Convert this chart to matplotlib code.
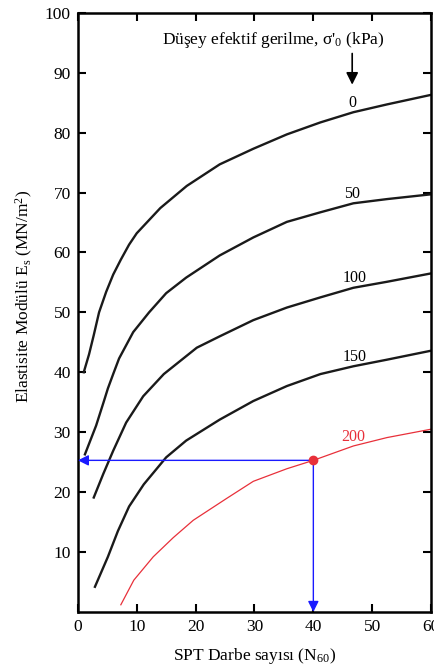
import matplotlib
matplotlib.use("Agg")
import matplotlib.pyplot as plt

plt.rcParams['font.family'] = ['Liberation Serif', 'DejaVu Serif']
plt.rcParams['mathtext.fontset'] = 'custom'
plt.rcParams['mathtext.rm'] = 'Liberation Serif'
plt.rcParams['mathtext.it'] = 'Liberation Serif:italic'

# SPT N60 vs elastic modulus for several effective stresses (kPa)
n_0 = [1.0, 1.9, 2.7, 3.6, 4.8, 6.0, 7.3, 8.7, 10, 14, 18.5, 24.1, 29.8, 35.5, 41.2, 46.8, 52.5, 60]
e_0 = [40, 43.0, 46.2, 50, 53.4, 56.3, 58.8, 61.3, 63.2, 67.4, 71.1, 74.7, 77.3, 79.7, 81.7, 83.4, 84.7, 86.3]

n_50 = [1.2, 3.1, 4.4, 5.1, 6.0, 7.0, 9.4, 12.1, 15.0, 18.4, 24.1, 29.8, 35.5, 41.2, 46.8, 52.5, 60]
e_50 = [26.3, 31.1, 35.1, 37.3, 39.7, 42.3, 46.7, 50, 53.2, 55.8, 59.5, 62.5, 65.1, 66.7, 68.2, 68.9, 69.7]

n_100 = [2.7, 4.3, 6.0, 8.2, 11.1, 14.6, 20.2, 24.1, 29.8, 35.5, 41.2, 46.8, 52.5, 60]
e_100 = [19.1, 23.0, 26.9, 31.6, 36.0, 39.7, 44.1, 46.0, 48.7, 50.8, 52.5, 54.1, 55.1, 56.5]

n_150 = [2.9, 5.1, 6.8, 8.7, 11.2, 15.0, 18.4, 24.1, 29.8, 35.5, 41.2, 46.8, 52.5, 60]
e_150 = [4.2, 9.2, 13.5, 17.6, 21.3, 25.8, 28.6, 32.1, 35.2, 37.7, 39.7, 41.0, 42.1, 43.6]

n_200 = [7.3, 9.5, 12.8, 16.2, 19.6, 25.2, 29.8, 35.5, 40, 46.8, 52.5, 60]
e_200 = [1.2, 5.3, 9.2, 12.4, 15.3, 18.9, 21.8, 23.9, 25.3, 27.7, 29.1, 30.5]

black_curves = [(n_0, e_0), (n_50, e_50), (n_100, e_100), (n_150, e_150)]
curve_labels = ['0', '50', '100', '150']
label_pos = [(46.6, 84.9), (46.6, 69.7), (47, 55.7), (47, 42.5)]

# example reading
n_read = 40
e_read = 25.3

fig = plt.figure(figsize=(4.35, 6.71), dpi=100)
ax = fig.add_axes([0.179, 0.088, 0.812, 0.893])

for (n, e) in black_curves:
    ax.plot(n, e, color='#1a1a1a', lw=1.7)
for txt, (x, y) in zip(curve_labels, label_pos):
    ax.text(x, y, txt, ha='center', va='center', fontsize=11.5, color='black')

ax.plot(n_200, e_200, color='#e8303a', lw=0.9)
ax.text(46.8, 29.2, '200', ha='center', va='center', fontsize=11.5, color='#e8303a')

# blue reading lines
ax.annotate('', xy=(0, e_read), xytext=(n_read, e_read),
            arrowprops=dict(arrowstyle='-|>', color='#1a1aff', lw=1, mutation_scale=16,
                            shrinkA=0, shrinkB=0))
ax.annotate('', xy=(n_read, 0), xytext=(n_read, e_read),
            arrowprops=dict(arrowstyle='-|>', color='#1a1aff', lw=1, mutation_scale=16,
                            shrinkA=0, shrinkB=0))
ax.plot([n_read], [e_read], 'o', color='#e8303a', ms=6, zorder=5)

# stress legend and arrow
ax.text(33.2, 95.4, "Düşey efektif gerilme, σ'$_0$ (kPa)", ha='center', va='center', fontsize=12.5)
ax.annotate('', xy=(46.6, 88.0), xytext=(46.6, 93.2),
            arrowprops=dict(arrowstyle='-|>', color='black', lw=1.2, mutation_scale=18,
                            shrinkA=0, shrinkB=0))

ax.set_xlim(0, 60)
ax.set_ylim(0, 100)
ax.set_xticks([0, 10, 20, 30, 40, 50, 60])
ax.set_yticks([10, 20, 30, 40, 50, 60, 70, 80, 90, 100])
ax.tick_params(direction='in', length=6, width=1.5, top=True, right=True,
               labelsize=12.5, pad=5)
for sp in ax.spines.values():
    sp.set_linewidth(1.8)

ax.set_xlabel('SPT Darbe sayısı (N$_{60}$)', fontsize=12.5, labelpad=8)
ax.set_ylabel('Elastisite Modülü E$_\\mathrm{s}$ (MN/m$^2$)', fontsize=12.5)
ax.yaxis.set_label_coords(-0.12, 0.526)

fig.savefig('out.png', dpi=100)
